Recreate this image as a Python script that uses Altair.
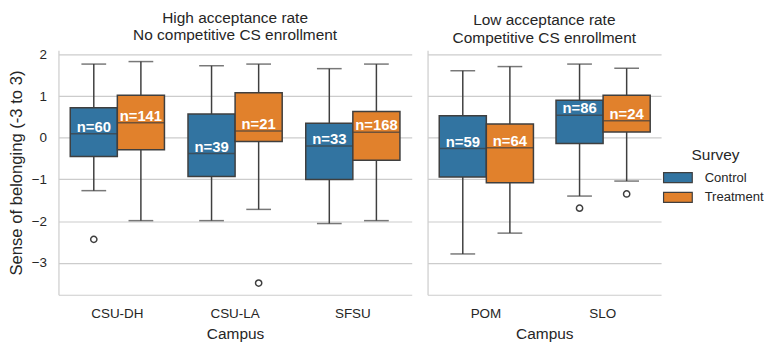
import altair as alt
import pandas as pd

# ---- data ----
campus = ["CSU-DH", "CSU-DH", "CSU-LA", "CSU-LA", "SFSU", "SFSU", "POM", "POM", "SLO", "SLO"]
survey = ["Control", "Treatment"] * 5
panel = ["high"] * 6 + ["low"] * 4
whisker_lo = [-1.27, -1.99, -1.99, -1.72, -2.06, -1.99, -2.79, -2.29, -1.40, -1.04]
q1 = [-0.45, -0.29, -0.93, -0.09, -1.00, -0.54, -0.94, -1.08, -0.14, 0.14]
median = [0.095, 0.36, -0.38, 0.16, -0.20, 0.13, -0.26, -0.24, 0.54, 0.41]
q3 = [0.72, 1.02, 0.57, 1.08, 0.35, 0.63, 0.53, 0.33, 0.90, 1.02]
whisker_hi = [1.77, 1.83, 1.73, 1.77, 1.66, 1.77, 1.61, 1.71, 1.77, 1.67]
n_count = [60, 141, 39, 21, 33, 168, 59, 64, 86, 24]

out_campus = ["CSU-DH", "CSU-LA", "SLO", "SLO"]
out_survey = ["Control", "Treatment", "Control", "Treatment"]
out_panel = ["high", "high", "low", "low"]
out_value = [-2.44, -3.49, -1.69, -1.35]

high_campus = ["CSU-DH", "CSU-LA", "SFSU"]
low_campus = ["POM", "SLO"]
survey_levels = ["Control", "Treatment"]
colors = ["#3274a1", "#e1812c"]

high_title = ["High acceptance rate", "No competitive CS enrollment"]
low_title = ["Low acceptance rate", "Competitive CS enrollment"]

boxes = pd.DataFrame({
    "Campus": campus, "Survey": survey, "panel": panel,
    "lo": whisker_lo, "q1": q1, "med": median, "q3": q3, "hi": whisker_hi,
    "n": n_count,
})
boxes["label"] = "n=" + boxes["n"].astype(str)
outl = pd.DataFrame({"Campus": out_campus, "Survey": out_survey,
                     "panel": out_panel, "value": out_value})

FONT = "Liberation Sans"
TXT = "#262626"
EDGE = "#3f3f3f"
GRID = "#cccccc"

ydom = [-3.77, 2.1]


def make_panel(key, cats, width, title, show_y):
    bdf = boxes[boxes["panel"] == key]
    odf = outl[outl["panel"] == key]
    xenc = alt.X("Campus:N", sort=cats, title="Campus",
                 scale=alt.Scale(domain=cats, paddingInner=0.2, paddingOuter=0.1),
                 axis=alt.Axis(labelAngle=0, ticks=False, grid=False,
                               domainColor=GRID, domainWidth=1.2,
                               labelFontSize=13.6, labelColor=TXT, labelPadding=12,
                               titleFontSize=15.6, titleColor=TXT, titleFontWeight="normal",
                               titlePadding=7, labelFont=FONT, titleFont=FONT))
    xoff = alt.XOffset("Survey:N", sort=survey_levels,
                       scale=alt.Scale(domain=survey_levels, paddingInner=0, paddingOuter=0))
    if show_y:
        yaxis = alt.Axis(values=[-3, -2, -1, 0, 1, 2], ticks=False, grid=True,
                         gridColor=GRID, gridWidth=1.2, domainColor=GRID, domainWidth=1.2,
                         labelFontSize=13.6, labelColor=TXT, labelPadding=12,
                         title="Sense of belonging (-3 to 3)", titleFontSize=16.8,
                         titleColor=TXT, titleFontWeight="normal", titlePadding=6.1,
                         labelFont=FONT, titleFont=FONT)
    else:
        yaxis = alt.Axis(values=[-3, -2, -1, 0, 1, 2], ticks=False, grid=True,
                         gridColor=GRID, gridWidth=1.2, domainColor=GRID, domainWidth=1.2,
                         labels=False, title=None)
    yscale = alt.Scale(domain=ydom, nice=False, zero=False)
    color = alt.Color("Survey:N", sort=survey_levels,
                      scale=alt.Scale(domain=survey_levels, range=colors),
                      legend=alt.Legend(title="Survey", orient="none", legendX=615, legendY=99,
                                        symbolType="M-1.45,-0.5H1.45V0.5H-1.45Z",
                                        symbolSize=400, symbolStrokeColor=EDGE,
                                        symbolStrokeWidth=1.2, labelFontSize=13.2,
                                        labelColor=TXT, titleFontSize=15.6, titleColor=TXT,
                                        titleFontWeight="normal", titleAnchor="middle",
                                        labelFont=FONT, titleFont=FONT, rowPadding=1,
                                        labelOffset=16, titlePadding=3))

    base = alt.Chart(bdf)
    whisk = base.mark_rule(color=EDGE, strokeWidth=1.5).encode(
        x=xenc, xOffset=xoff, y=alt.Y("lo:Q", scale=yscale, axis=yaxis), y2="hi:Q")
    cap_lo = base.mark_tick(color=EDGE, size=25, thickness=1.5, orient="horizontal").encode(
        x=xenc, xOffset=xoff, y=alt.Y("lo:Q", scale=yscale, axis=yaxis))
    cap_hi = base.mark_tick(color=EDGE, size=25, thickness=1.5, orient="horizontal").encode(
        x=xenc, xOffset=xoff, y=alt.Y("hi:Q", scale=yscale, axis=yaxis))
    box = base.mark_bar(stroke=EDGE, strokeWidth=1.5, opacity=1).encode(
        x=xenc, xOffset=xoff, y=alt.Y("q1:Q", scale=yscale, axis=yaxis), y2="q3:Q",
        color=color)
    med = base.mark_tick(color=EDGE, size=47, thickness=1.5, orient="horizontal").encode(
        x=xenc, xOffset=xoff, y=alt.Y("med:Q", scale=yscale, axis=yaxis))
    txt = base.mark_text(color="white", fontWeight="bold", fontSize=15, font=FONT,
                         baseline="alphabetic", dy=-2).encode(
        x=xenc, xOffset=xoff, y=alt.Y("med:Q", scale=yscale, axis=yaxis), text="label:N")
    layers = [whisk, cap_lo, cap_hi, box, med, txt]
    if len(odf):
        pts = alt.Chart(odf).mark_point(shape="circle", filled=False, color=EDGE,
                                        strokeWidth=1.5, size=40, opacity=1).encode(
            x=xenc, xOffset=xoff, y=alt.Y("value:Q", scale=yscale, axis=yaxis))
        layers.append(pts)
    return alt.layer(*layers).properties(
        width=width, height=247,
        title=alt.TitleParams(title, fontSize=15.6, color=TXT, fontWeight="normal",
                              font=FONT, anchor="middle", lineHeight=17.5, offset=4))


left = make_panel("high", high_campus, 357, high_title, True)
right = make_panel("low", low_campus, 236, low_title, False)

chart = alt.hconcat(left, right, spacing=16).configure_view(stroke=None).properties(
    padding={"left": 0, "top": 1, "right": 0, "bottom": 0},
    background="white")

chart.save("out.html", embed_options={"renderer": "svg", "actions": False})
